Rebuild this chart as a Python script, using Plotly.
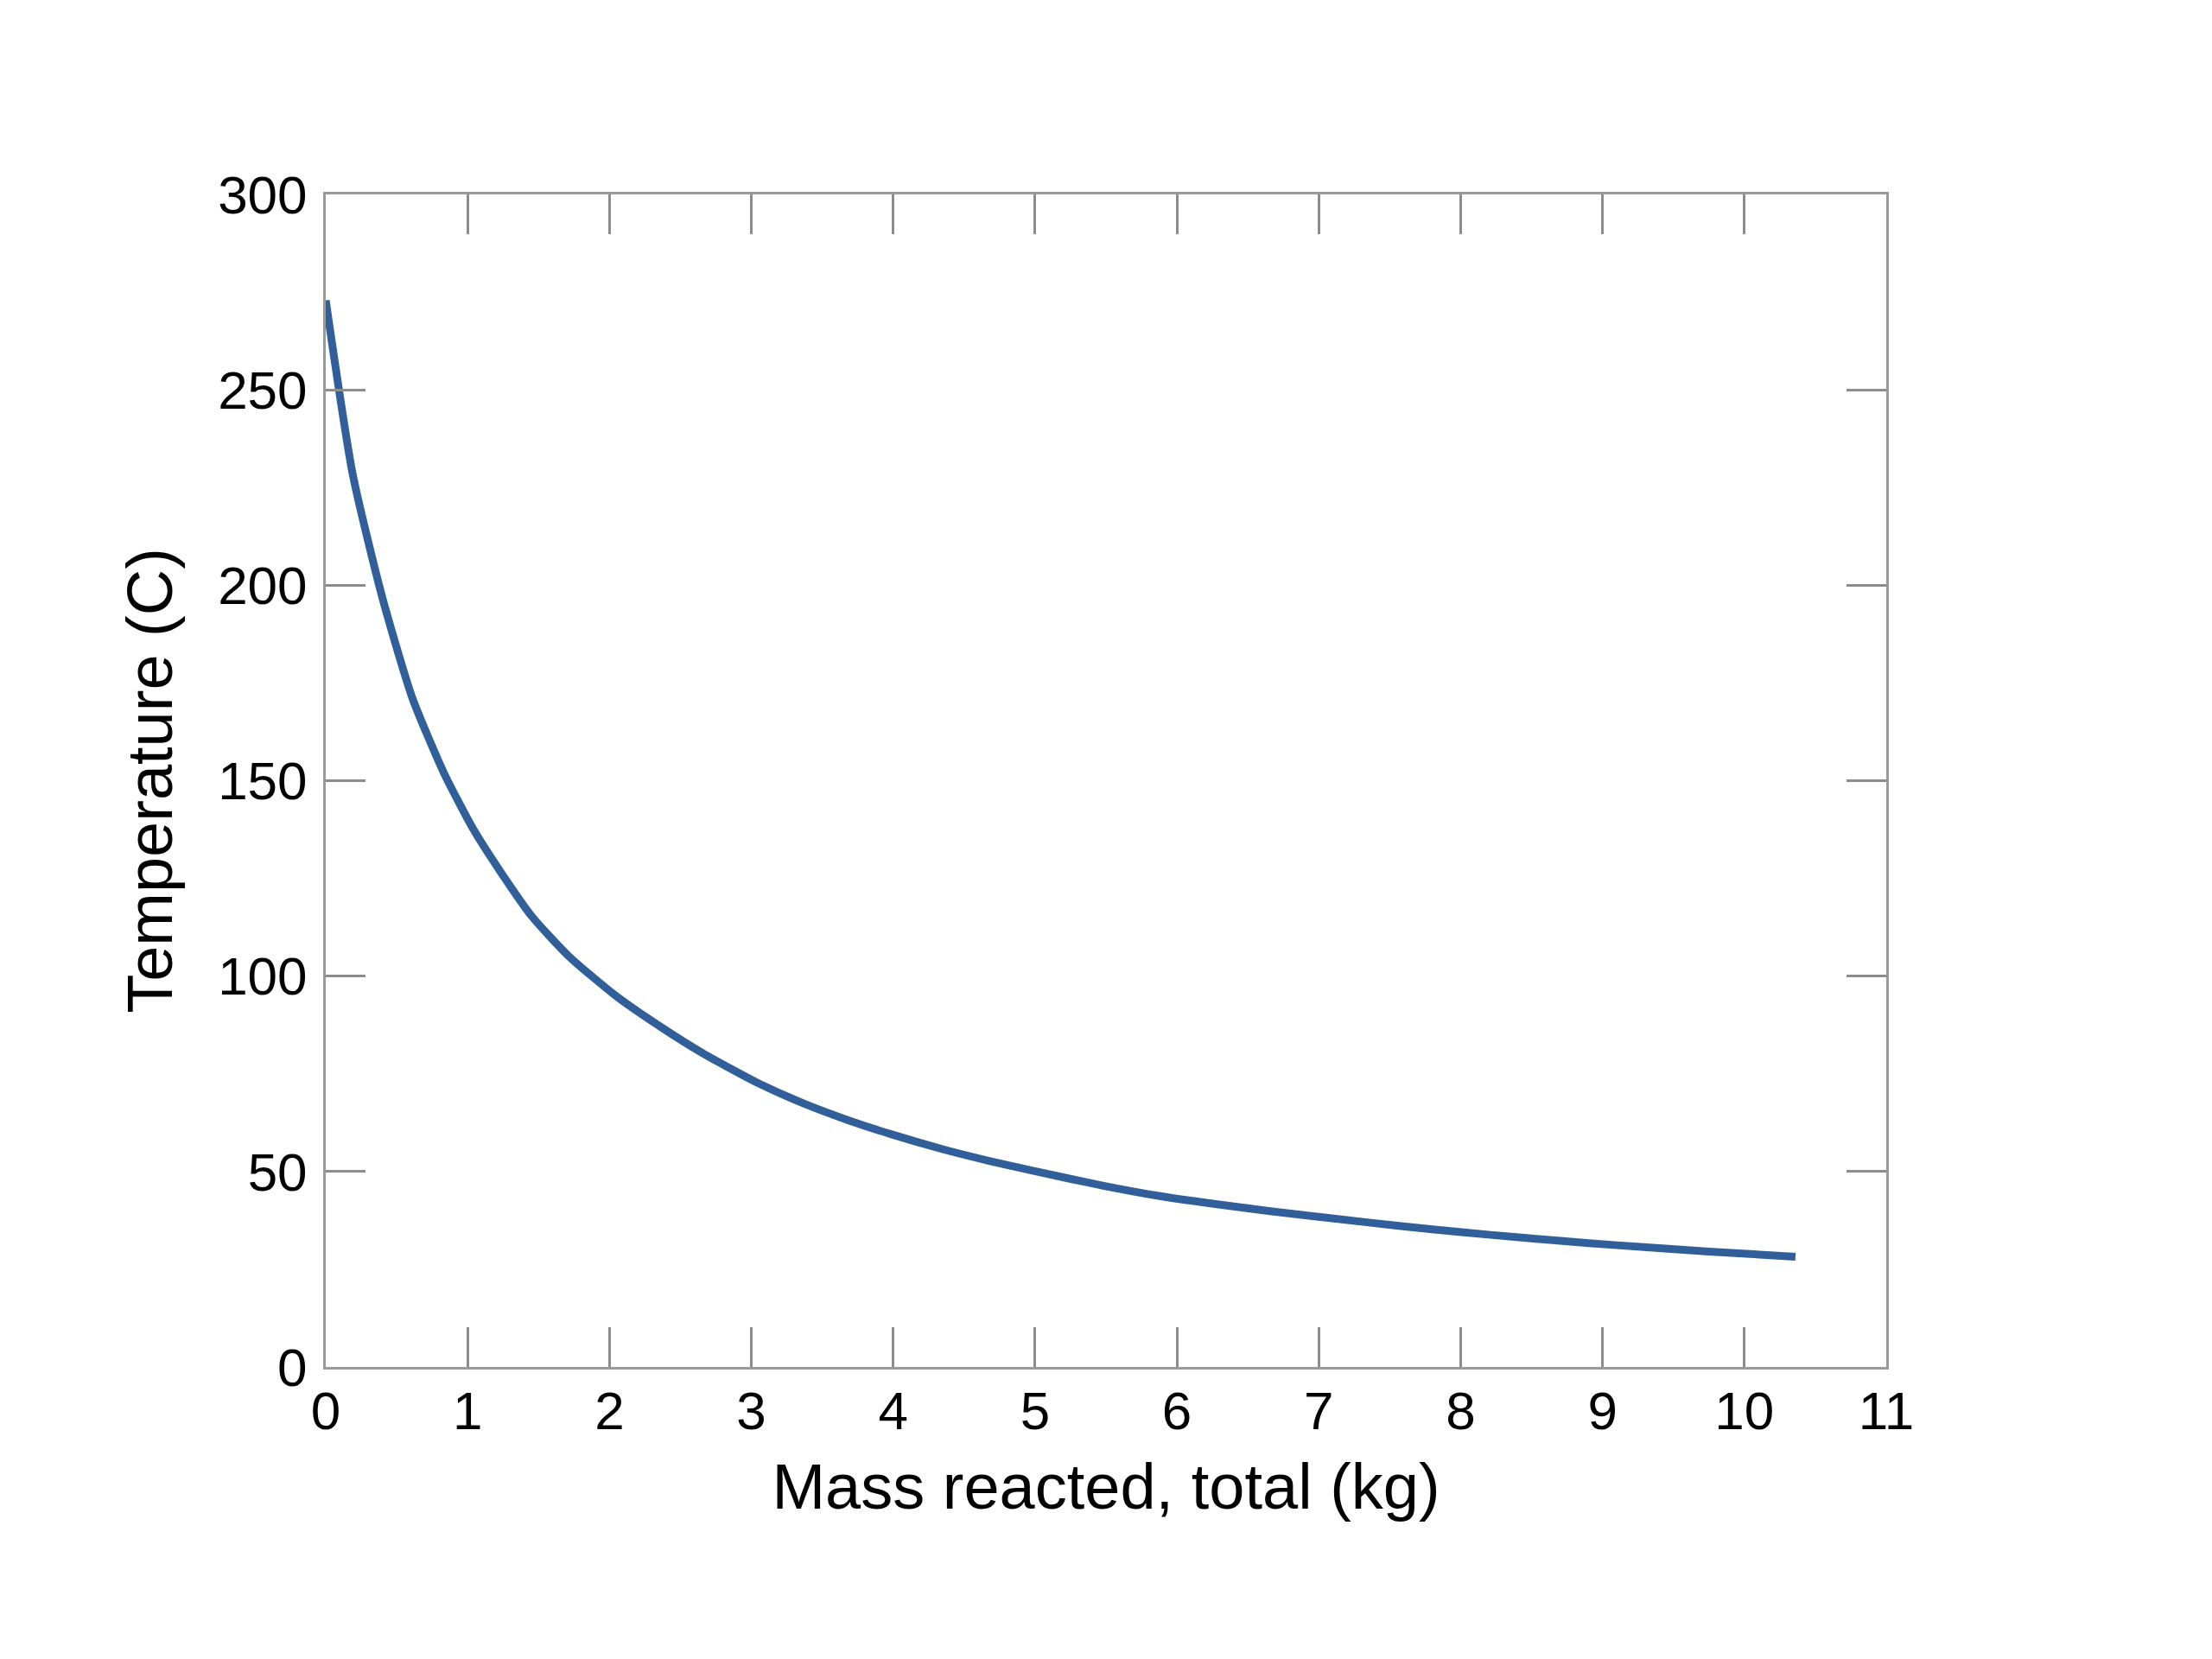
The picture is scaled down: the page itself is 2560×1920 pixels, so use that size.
import plotly.graph_objects as go

# values
mass_kg = [0.0, 0.19, 0.40, 0.61, 0.83, 1.04, 1.23, 1.45, 1.71, 2.04, 2.37,
           2.67, 2.82, 3.06, 3.37, 3.67, 3.98, 4.36, 4.69, 4.97, 5.49, 5.90,
           6.67, 7.34, 7.80, 8.21, 8.72, 9.08, 9.75, 10.36]
temperature_c = [272.9, 228.4, 196.7, 171.2, 152.2, 137.6, 126.8, 115.4, 105.2,
                 95.1, 86.8, 80.0, 77.0, 72.4, 67.4, 63.3, 59.6, 55.6, 52.6,
                 50.3, 46.3, 43.6, 39.8, 37.0, 35.2, 33.8, 32.2, 31.2, 29.5, 28.2]

x_ticks = list(range(0, 12))
y_ticks = [0, 50, 100, 150, 200, 250, 300]

FONT = "Liberation Sans, Arial, sans-serif"
AXIS_GREY = "#999999"

fig = go.Figure()
fig.add_trace(go.Scatter(
    x=mass_kg,
    y=temperature_c,
    mode="lines",
    line=dict(color="#305f99", width=9, shape="spline", smoothing=0.6),
    showlegend=False,
))

axis_common = dict(
    showgrid=False,
    zeroline=False,
    showline=True,
    linecolor=AXIS_GREY,
    linewidth=3,
    mirror="ticks",
    ticks="inside",
    ticklen=46,
    tickwidth=2.5,
    tickcolor="#8c8c8c",
    tickfont=dict(family=FONT, size=62, color="black"),
)

fig.update_layout(
    width=2560,
    height=1920,
    margin=dict(l=369, r=385, t=217, b=346),
    paper_bgcolor="white",
    plot_bgcolor="white",
    xaxis=dict(
        range=[0, 11],
        tickvals=x_ticks,
        ticklabelstandoff=-5,
        title=dict(text="Mass reacted, total (kg)", standoff=28,
                   font=dict(family=FONT, size=74, color="black")),
        **axis_common,
    ),
    yaxis=dict(
        range=[0, 300],
        tickvals=y_ticks,
        ticklabelstandoff=6,
        title=dict(text="Temperature (C)", standoff=29,
                   font=dict(family=FONT, size=74, color="black")),
        **axis_common,
    ),
)

fig.write_html("out.html")
